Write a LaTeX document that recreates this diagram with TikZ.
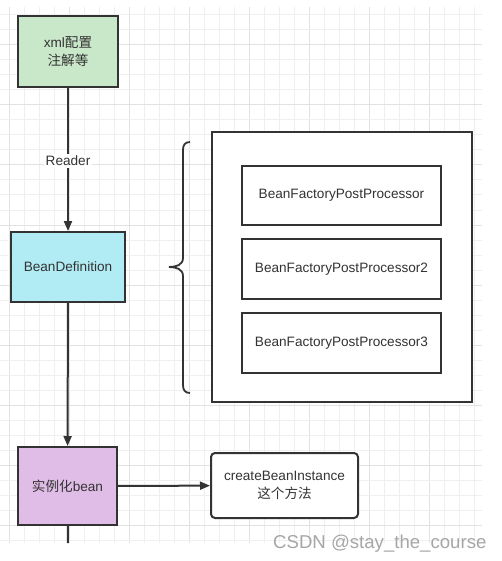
\documentclass[tikz,border=0pt]{standalone}
\usepackage{fontspec}
\setmainfont{Liberation Sans}
\newfontfamily\cjk{Noto Sans CJK SC}
\usetikzlibrary{arrows.meta}
\definecolor{edge}{HTML}{333333}
\definecolor{txt}{HTML}{333333}
\definecolor{gfill}{HTML}{C9E7C9}
\definecolor{cfill}{HTML}{B1EBF3}
\definecolor{pfill}{HTML}{E0BDE6}
\definecolor{gminor}{HTML}{EFEFEF}
\definecolor{gmajor}{HTML}{E2E2E2}
\definecolor{wm}{HTML}{A6A6A6}
\tikzset{
  box/.style={draw=edge, line width=2pt, rectangle, inner sep=0pt, align=center,
    text=txt, font=\fontsize{13.6}{17.5}\selectfont},
  conn/.style={draw=edge, line width=2pt},
  arr/.style={conn, -{Triangle[length=10pt,width=8pt]}},
}
\begin{document}
\begin{tikzpicture}[x=1pt,y=-1pt]
\useasboundingbox (0,0) rectangle (501,561);
\fill[white] (0,0) rectangle (501,561);
% grid
\foreach \k in {0,...,31} {
  \pgfmathtruncatemacro{\m}{mod(\k,4)}
  \ifnum\m=0
    \draw[gmajor, line width=1pt] (9.33+15*\k,7) -- (9.33+15*\k,543);
  \else
    \draw[gminor, line width=1pt] (9.33+15*\k,7) -- (9.33+15*\k,543);
  \fi
}
\foreach \k in {1,...,36} {
  \pgfmathtruncatemacro{\m}{mod(\k,4)}
  \ifnum\m=3
    \draw[gmajor, line width=1pt] (0,15*\k) -- (482,15*\k);
  \else
    \draw[gminor, line width=1pt] (0,15*\k) -- (482,15*\k);
  \fi
}
% nodes
\node[box, fill=gfill, minimum width=100pt, minimum height=71pt] (xml) at (68,51.5) {xml{\cjk 配置}\\{\cjk 注解等}};
\node[box, fill=cfill, minimum width=114pt, minimum height=70pt] (bd) at (68,267) {BeanDefinition};
\node[box, fill=pfill, minimum width=99pt, minimum height=78pt] (inst) at (67.5,486) {{\cjk 实例化}bean};
\node[box, fill=white, rounded corners=4pt, minimum width=147pt, minimum height=65pt] (create) at (284.5,485.5) {createBeanInstance\\{\cjk 这个方法}};
\node[box, fill=white, minimum width=260pt, minimum height=270pt] (outer) at (342,267) {};
\node[box, fill=white, minimum width=199pt, minimum height=59pt] (p1) at (341.5,195.5) {BeanFactoryPostProcessor};
\node[box, fill=white, minimum width=199pt, minimum height=60pt] (p2) at (341.5,269) {BeanFactoryPostProcessor2};
\node[box, fill=white, minimum width=199pt, minimum height=60pt] (p3) at (341.5,343) {BeanFactoryPostProcessor3};
% connectors
\draw[arr] (xml) -- node[fill=white, text=txt, inner sep=2pt, font=\fontsize{13.6}{15}\selectfont, pos=0.51] {Reader} (bd);
\draw[arr] (bd) -- (inst);
\draw[arr] (inst) -- (create);
\coordinate (tail) at (68,543);
\draw[conn] (inst) -- (tail);
% brace
\coordinate (btop) at (190,142);
\coordinate (btip) at (169,267);
\coordinate (bbot) at (190,393);
\draw[conn, line width=1.8pt] (btop) .. controls (185,142) and (183,145) .. (183,150)
  -- (183,258) .. controls (183,265) and (176,267) .. (btip)
  .. controls (176,267) and (183,269) .. (183,276)
  -- (183,385) .. controls (183,390) and (185,393) .. (bbot);
% watermark
\node[anchor=base west, inner sep=0pt, text=wm, font=\fontsize{18.6}{20}\selectfont] (wmk) at (273,548) {CSDN @stay\_the\_course};
\end{tikzpicture}
\end{document}
